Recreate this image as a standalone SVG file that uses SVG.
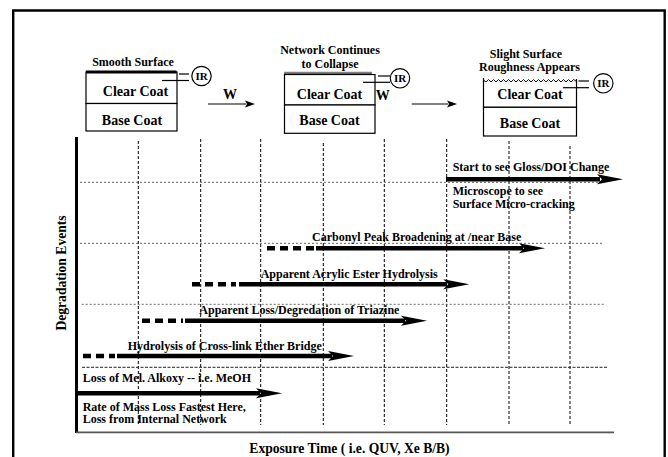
<svg xmlns="http://www.w3.org/2000/svg" width="668" height="457" viewBox="0 0 668 457">
<defs>
<style>
text{font-family:"Liberation Serif","Times New Roman",serif;font-weight:bold;fill:#000}
.h{font-size:12px;text-anchor:middle}
.c{font-size:14px;text-anchor:middle}
.l{font-size:12px}
.ax{font-size:13.6px;text-anchor:middle}
.box{fill:#fff;stroke:#000;stroke-width:1.2}
.thin{stroke:#000;stroke-width:1.2;fill:none}
.vg{stroke:#000;stroke-width:1;stroke-dasharray:3,2;fill:none}
.hg{stroke:#666;stroke-width:1;stroke-dasharray:2,2;fill:none}
.sol{stroke:#000;stroke-width:4.5;fill:none}
.dsh{stroke:#000;stroke-width:4.5;stroke-dasharray:8,5;fill:none}
.head{fill:#000}
</style>
</defs>
<rect width="668" height="457" fill="#fff"/>
<path d="M13.2,457 V10.5 H664.7 V457" fill="none" stroke="#000" stroke-width="2.4"/>

<g id="state1">
<rect class="box" x="86" y="72" width="91" height="31.5"/>
<rect class="box" x="86" y="103.5" width="91" height="27.5"/>
<line x1="86" y1="72" x2="176.5" y2="72" stroke="#000" stroke-width="3"/>
<text class="h" x="133" y="65.5">Smooth Surface</text>
<text class="c" x="135.5" y="96">Clear Coat</text>
<text class="c" x="132" y="125">Base Coat</text>
<line class="thin" x1="179" y1="74" x2="189" y2="74"/>
<line class="thin" x1="162" y1="80.5" x2="189" y2="80.5"/>
<circle class="thin" cx="201.5" cy="76" r="9.7"/>
<text x="201.5" y="80" style="font-size:11px;text-anchor:middle">IR</text>
</g>

<g id="state2">
<rect class="box" x="284.5" y="74.5" width="90.5" height="30.5"/>
<rect class="box" x="284.5" y="105" width="90.5" height="28.3"/>
<rect x="283" y="71" width="94" height="3" fill="#fff"/>
<line x1="284.5" y1="72.8" x2="372" y2="72.8" stroke="#000" stroke-width="2.2" stroke-dasharray="1,1"/>
<line x1="284.5" y1="74.3" x2="372" y2="74.3" stroke="#000" stroke-width="1"/>
<text class="h" x="330" y="54">Network Continues</text>
<text class="h" x="330" y="67.5">to Collapse</text>
<text class="c" x="329.5" y="99.3">Clear Coat</text>
<text class="c" x="329.5" y="125">Base Coat</text>
<line class="thin" x1="378" y1="76" x2="390" y2="76"/>
<line class="thin" x1="363" y1="82.3" x2="390" y2="82.3"/>
<circle class="thin" cx="400" cy="78.3" r="9.7"/>
<text x="400" y="82.3" style="font-size:11px;text-anchor:middle">IR</text>
</g>

<g id="state3">
<rect class="box" x="483.5" y="80.5" width="93" height="26.8"/>
<rect class="box" x="483.5" y="107.3" width="93" height="28.7"/>
<rect x="482" y="77" width="96" height="4" fill="#fff"/>
<line class="thin" x1="483.5" y1="78" x2="483.5" y2="82"/>
<line class="thin" x1="576.5" y1="79" x2="576.5" y2="82"/>
<polyline fill="none" stroke="#000" stroke-width="0.9" points="483.5,80 486,82 488.5,79.5 491,82 493.5,79.5 496,82 498.5,79.5 501,82 503.5,79.5 506,82 508.5,79.5 511,82 513.5,79.5 516,82 518.5,79.5 521,82 523.5,79.5 526,82 528.5,79.5 531,82 533.5,79.5 536,82 538.5,79.5 541,82 543.5,79.5 546,82 548.5,79.5 551,82 553.5,79.5 556,82 558.5,79.5 561,82 563.5,79.5 566,82 568.5,79.5 571,82 573.5,79.5 576,81"/>
<text class="h" x="526" y="58.3">Slight Surface</text>
<text class="h" x="529.5" y="71.2">Roughness Appears</text>
<text class="c" x="530" y="99.3">Clear Coat</text>
<text class="c" x="530" y="128.3">Base Coat</text>
<line class="thin" x1="578.5" y1="81" x2="589" y2="81"/>
<line class="thin" x1="563" y1="87.7" x2="589" y2="87.7"/>
<circle class="thin" cx="603.3" cy="83.3" r="9.7"/>
<text x="603.3" y="87.3" style="font-size:11px;text-anchor:middle">IR</text>
</g>

<g id="transitions">
<text class="c" x="230" y="99">W</text>
<line class="thin" x1="208" y1="104" x2="246" y2="104"/>
<polygon class="head" points="255,104 245,100.5 247,104 245,107.5"/>
<text class="c" x="382.7" y="100">W</text>
<line class="thin" x1="411.7" y1="104" x2="448" y2="104"/>
<polygon class="head" points="457,104 447,100.5 449,104 447,107.5"/>
</g>

<g id="grid">
<line class="vg" x1="138.3" y1="141" x2="138.3" y2="425"/>
<line class="vg" x1="200.7" y1="139" x2="200.7" y2="425"/>
<line class="vg" x1="260.7" y1="139" x2="260.7" y2="425"/>
<line class="vg" x1="323.3" y1="143" x2="323.3" y2="425"/>
<line class="vg" x1="384.3" y1="139" x2="384.3" y2="425"/>
<line class="vg" x1="446.7" y1="139" x2="446.7" y2="425"/>
<line class="vg" x1="509" y1="141" x2="509" y2="425"/>
<line class="vg" x1="570" y1="146" x2="570" y2="425"/>
<line class="hg" x1="80" y1="182.3" x2="600" y2="182.3"/>
<line class="hg" x1="80" y1="243.3" x2="602" y2="243.3"/>
<line class="hg" x1="81.7" y1="304.3" x2="605" y2="304.3"/>
<line x1="82" y1="367.3" x2="608" y2="367.3" stroke="#222" stroke-width="1" stroke-dasharray="3,1.5"/>
</g>

<g id="axes">
<line x1="76.5" y1="137" x2="76.5" y2="433" stroke="#000" stroke-width="3"/>
<line x1="76" y1="432.3" x2="614" y2="432.3" stroke="#555" stroke-width="1.8"/>
<text class="ax" transform="translate(65.5,273) rotate(-90)">Degradation Events</text>
<text class="ax" x="349.5" y="453">Exposure Time ( i.e. QUV, Xe B/B)</text>
</g>

<g id="connectors">
<line class="sol" x1="446" y1="179.3" x2="600" y2="179.3"/>
<polygon class="head" points="623,179.3 597,174.3 602,179.3 597,184.3"/>

<line class="dsh" x1="267" y1="248.3" x2="314" y2="248.3"/>
<line class="sol" x1="316" y1="248.3" x2="523" y2="248.3"/>
<polygon class="head" points="545,248.3 519,243.3 524,248.3 519,253.3"/>

<line class="dsh" x1="192" y1="284.3" x2="236" y2="284.3"/>
<line class="sol" x1="239" y1="284.3" x2="447" y2="284.3"/>
<polygon class="head" points="469.3,284.3 443.3,279.3 448.3,284.3 443.3,289.3"/>

<line class="dsh" x1="142" y1="320.7" x2="183" y2="320.7"/>
<line class="sol" x1="185" y1="320.7" x2="405" y2="320.7"/>
<polygon class="head" points="427,320.7 401,315.7 406,320.7 401,325.7"/>

<line class="dsh" x1="83" y1="356" x2="115" y2="356"/>
<line class="sol" x1="117" y1="356" x2="332" y2="356"/>
<polygon class="head" points="354,356 328,351 333,356 328,361"/>

<line class="sol" x1="78" y1="393.3" x2="260" y2="393.3"/>
<polygon class="head" points="282,393.3 256,388.3 261,393.3 256,398.3"/>
</g>

<g id="labels">
<text class="l" x="452.7" y="171">Start to see Gloss/DOI Change</text>
<text class="l" x="452.7" y="194.7">Microscope to see</text>
<text class="l" x="452.7" y="207.5">Surface Micro-cracking</text>
<text class="l" x="312" y="240.7">Carbonyl Peak Broadening at /near Base</text>
<text class="l" x="260.7" y="277.7">Apparent Acrylic Ester Hydrolysis</text>
<text class="l" x="199.3" y="314.3">Apparent Loss/Degredation of Triazine</text>
<text class="l" x="127.7" y="350">Hydrolysis of Cross-link Ether Bridge</text>
<text class="l" x="82.7" y="381.7">Loss of Mel. Alkoxy -- i.e. MeOH</text>
<text class="l" x="82.7" y="410.5">Rate of Mass Loss Fastest Here,</text>
<text class="l" x="82.7" y="423">Loss from Internal Network</text>
</g>
</svg>
